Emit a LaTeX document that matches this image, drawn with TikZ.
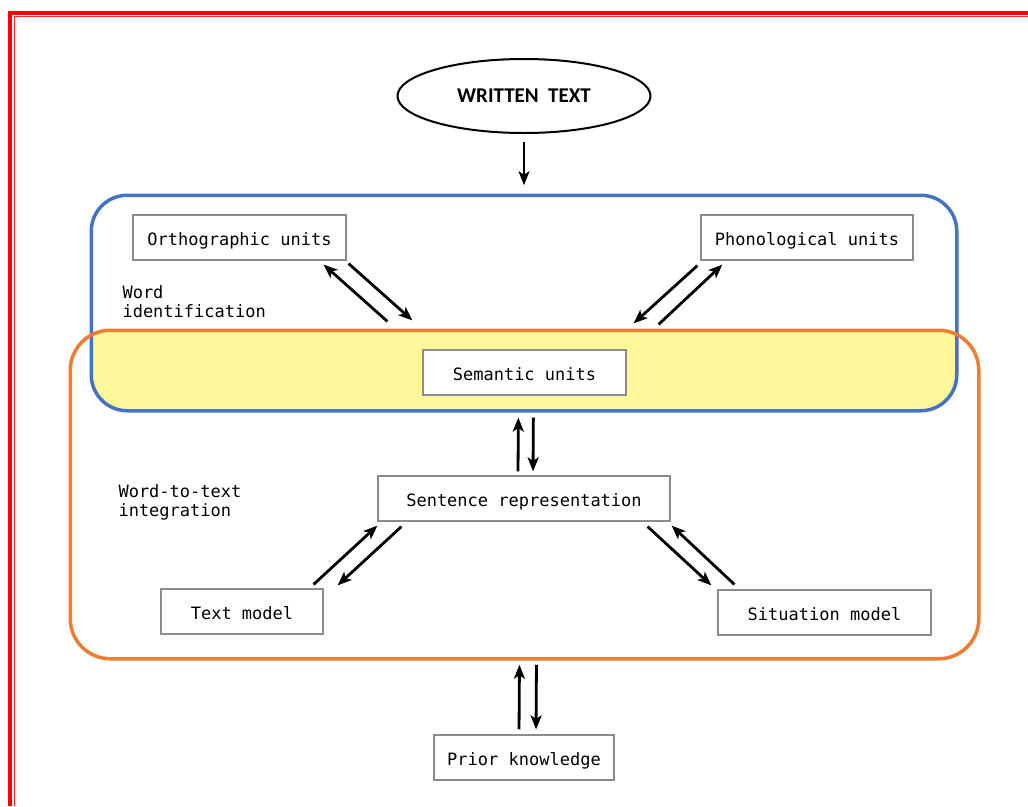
\documentclass[tikz,border=0pt]{standalone}
\usepackage{fontspec}
\setmonofont{DejaVu Sans Mono}
\newfontfamily\headfont{Carlito}
\usepackage{tikz}
\usetikzlibrary{positioning,arrows.meta,shapes.geometric}

\definecolor{wordblue}{RGB}{68,114,196}
\definecolor{integorange}{RGB}{237,125,49}
\definecolor{overlapyellow}{RGB}{255,247,153}

\begin{document}
\begin{tikzpicture}[x=1pt, y=-1pt,
    every node/.style={font=\ttfamily\fontsize{17}{19}\selectfont},
    unit/.style={rectangle, draw=black!45, line width=1.2pt, fill=white, minimum height=45pt, inner sep=0pt, text height=15pt, text depth=0pt},
    region/.style={rectangle, rounded corners=36pt, line width=3.5pt, inner sep=0pt},
    arr/.style={-{Stealth[length=14pt, width=11pt, inset=3.5pt]}, line width=2.8pt}]
    \useasboundingbox (0,0) rectangle (1028,806);

    % Page frame (double red line, left and top)
    \draw[red, line width=4pt] (10,806) -- (10,13) -- (1028,13);
    \draw[red!85, line width=1.3pt] (14.3,806) -- (14.3,16.8) -- (1028,16.8);

    % Regions
    \node[region, minimum width=862pt, minimum height=212pt] (wordid) at (524,303) {};
    \node[region, minimum width=905pt, minimum height=325pt, rounded corners=40pt] (integ) at (524.5,494.5) {};
    \begin{scope}
        \clip[rounded corners=36pt] (wordid.south west) rectangle (wordid.north east);
        \fill[overlapyellow, rounded corners=40pt] (integ.south west) rectangle (integ.north east);
    \end{scope}
    \draw[wordblue, line width=3.5pt, rounded corners=36pt] (wordid.south west) rectangle (wordid.north east);
    \draw[integorange, line width=3.5pt, rounded corners=40pt] (integ.south west) rectangle (integ.north east);

    % Input
    \node[ellipse, draw, line width=2pt, minimum width=253pt, minimum height=74pt, font=\headfont\bfseries\fontsize{21}{23}\selectfont] (wt) at (524,96) {WRITTEN\hspace{0.45em}TEXT};

    % Units and models
    \node[unit, minimum width=213pt] (ortho) at (239.5,237.5) {Orthographic units};
    \node[unit, minimum width=212pt] (phono) at (807,237.5) {Phonological units};
    \node[unit, minimum width=203pt] (sem) at (524.5,372.5) {Semantic units};
    \node[unit, minimum width=292pt] (sent) at (524,498.5) {Sentence representation};
    \node[unit, minimum width=162pt] (textm) at (242,611.5) {Text model};
    \node[unit, minimum width=213pt] (sit) at (824.5,612.5) {Situation model};
    \node[unit, minimum width=180pt] (prior) at (524,757.5) {Prior knowledge};

    % Region labels
    \node[align=left, anchor=west] (widlabel) at (119,301.5) {Word\\identification};
    \node[align=left, anchor=west] (wtilabel) at (115,502.5) {Word-to-text\\integration};

    % Arrows
    \draw[arr, shorten <=8pt, shorten >=10pt] (wt.south) -- (wordid.north);
    \draw[arr] ([shift={(-35,-28)}]sem.north west) -- ([shift={(-23,4)}]ortho.south east);
    \draw[arr] ([shift={(2,3)}]ortho.south east) -- ([shift={(-10,-29)}]sem.north west);
    \draw[arr] ([shift={(-3,5)}]phono.south west) -- ([shift={(7,-26)}]sem.north east);
    \draw[arr] ([shift={(32,-25)}]sem.north east) -- ([shift={(22,4)}]phono.south west);
    \draw[arr, shorten <=4pt, shorten >=22pt] ([xshift=-6pt]sent.north) -- ([xshift=-6pt]sem.south);
    \draw[arr, shorten <=22pt, shorten >=4pt] ([xshift=9pt]sem.south) -- ([xshift=9pt]sent.north);
    \draw[arr] ([shift={(-10,-4)}]textm.north east) -- ([shift={(0,4)}]sent.south west);
    \draw[arr] ([shift={(24,5)}]sent.south west) -- ([shift={(14,-3)}]textm.north east);
    \draw[arr] ([shift={(-23,5)}]sent.south east) -- ([shift={(-6,-4)}]sit.north west);
    \draw[arr] ([shift={(17,-5)}]sit.north west) -- ([shift={(1,4)}]sent.south east);
    \draw[arr, shorten <=5pt, shorten >=6pt] ([xshift=-5pt]prior.north) -- ([xshift=-5pt]integ.south);
    \draw[arr, shorten <=6pt, shorten >=5pt] ([xshift=12pt]integ.south) -- ([xshift=12pt]prior.north);
\end{tikzpicture}
\end{document}
